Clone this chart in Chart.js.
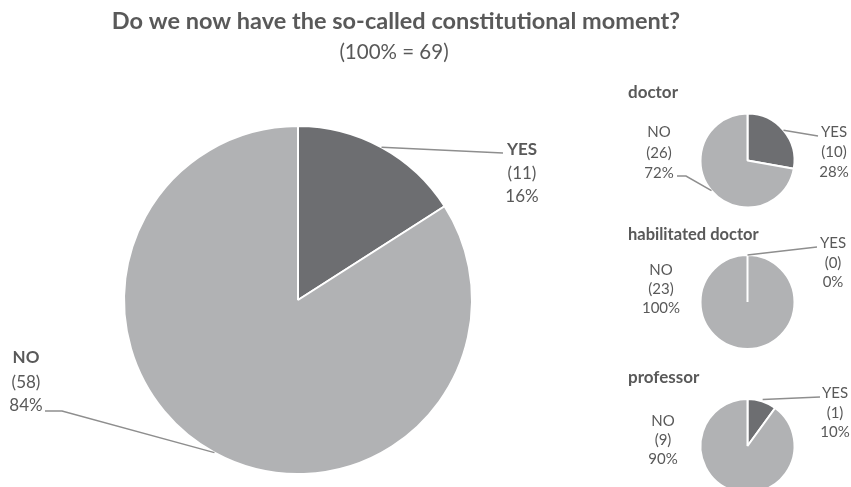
<!DOCTYPE html>
<html>
<head>
<meta charset="utf-8">
<script src="https://cdn.jsdelivr.net/npm/chart.js@4.4.0/dist/chart.umd.min.js"></script>
<style>
  html, body { margin: 0; padding: 0; background: #fff; }
  #wrap { position: relative; width: 851px; height: 487px; overflow: hidden; }
  #wrap canvas { position: absolute; left: 0; top: 0; }
</style>
</head>
<body>
<div id="wrap">
  <canvas id="overall" width="851" height="520"></canvas>
  <canvas id="doctor" width="851" height="520"></canvas>
  <canvas id="habilitated" width="851" height="520"></canvas>
  <canvas id="professor" width="851" height="520"></canvas>
</div>
<script>
// survey answers
const answers = ['YES', 'NO'];
const overallCounts = [11, 58];
const groupNames = ['doctor', 'habilitated doctor', 'professor'];
const doctorCounts = [10, 26];
const habilitatedCounts = [0, 23];
const professorCounts = [1, 9];

const W = 851, H = 520;
const sliceColors = ['#6d6e71', '#b1b2b4'];
const textColor = '#595959';
const lineColor = '#8e8e8e';
const FONT = 'Lato, "Open Sans", sans-serif';

// place a pie of radius r centred on (cx, cy) inside a full-size canvas
function padFor(cx, cy, r, bw) {
    const R = r + bw / 2;
    return { left: cx - R, top: cy - R, right: W - cx - R, bottom: H - cy - R };
}

// headings, slice labels and leader lines
const pieLabels = {
    id: 'pieLabels',
    afterDraw(chart, args, opts) {
        const ctx = chart.ctx;
        const meta = chart.getDatasetMeta(0);
        const data = chart.data.datasets[0].data;
        const total = data.reduce((a, b) => a + b, 0);
        ctx.save();
        ctx.fillStyle = textColor;
        ctx.textBaseline = 'middle';

        (opts.headings || []).forEach(h => {
            ctx.font = (h.bold ? 'bold ' : '') + h.size + 'px ' + FONT;
            ctx.textAlign = h.align || 'left';
            ctx.fillText(h.text, h.x, h.y);
        });

        opts.labels.forEach((lab, i) => {
            const arc = meta.data[i].getProps(['x', 'y', 'startAngle', 'endAngle', 'outerRadius'], true);
            if (lab.leader) {
                const mid = (arc.startAngle + arc.endAngle) / 2;
                const r = arc.outerRadius + (opts.leaderOut || 0);
                ctx.beginPath();
                ctx.moveTo(arc.x + Math.cos(mid) * r, arc.y + Math.sin(mid) * r);
                lab.leader.forEach(p => ctx.lineTo(p[0], p[1]));
                ctx.strokeStyle = lineColor;
                ctx.lineWidth = 1.5;
                ctx.stroke();
            }
            const pct = Math.round(data[i] / total * 100) + '%';
            const lines = [chart.data.labels[i], '(' + data[i] + ')', pct];
            ctx.textAlign = 'center';
            lines.forEach((t, k) => {
                ctx.font = (k === 0 && opts.boldName ? 'bold ' : '') + opts.size + 'px ' + FONT;
                ctx.fillText(t, lab.cx, lab.y[k]);
            });
        });
        ctx.restore();
    }
};

function makePie(id, counts, pie, labelOpts) {
    return new Chart(document.getElementById(id), {
        type: 'pie',
        data: {
            labels: answers,
            datasets: [{
                data: counts,
                backgroundColor: sliceColors,
                borderColor: '#ffffff',
                borderWidth: 2
            }]
        },
        options: {
            responsive: false,
            animation: false,
            events: [],
            layout: { padding: padFor(pie.cx, pie.cy, pie.r, 2) },
            plugins: {
                legend: { display: false },
                tooltip: { enabled: false },
                pieLabels: labelOpts
            }
        },
        plugins: [pieLabels]
    });
}

makePie('overall', overallCounts, { cx: 298, cy: 300, r: 174 }, {
    size: 17,
    boldName: true,
    headings: [
        { text: 'Do we now have the so-called constitutional moment?', x: 396, y: 21, size: 23.5, bold: true, align: 'center' },
        { text: '(100% = 69)', x: 394, y: 52, size: 20.5, align: 'center' }
    ],
    labels: [
        { cx: 522, y: [150, 174, 197], leader: [[503, 153]] },
        { cx: 26, y: [358, 383, 406], leader: [[62, 411], [45, 411]] }
    ]
});

makePie('doctor', doctorCounts, { cx: 747.5, cy: 160.5, r: 47 }, {
    size: 15,
    headings: [{ text: groupNames[0], x: 628, y: 93, size: 17, bold: true }],
    labels: [
        { cx: 834, y: [132, 152, 172], leader: [[818, 136]] },
        { cx: 659, y: [132, 153, 173], leader: [[686, 176], [677, 176]] }
    ]
});

makePie('habilitated', habilitatedCounts, { cx: 747.5, cy: 302, r: 47 }, {
    size: 15,
    headings: [{ text: groupNames[1], x: 628, y: 235, size: 16.5, bold: true }],
    labels: [
        { cx: 833, y: [243, 263, 282], leader: [[817, 247]] },
        { cx: 661, y: [270, 289, 308] }
    ]
});

makePie('professor', professorCounts, { cx: 747.5, cy: 446, r: 47 }, {
    size: 15,
    leaderOut: 2,
    headings: [{ text: groupNames[2], x: 628, y: 378, size: 17, bold: true }],
    labels: [
        { cx: 835, y: [393, 413, 432], leader: [[820, 397]] },
        { cx: 663, y: [421, 440, 459] }
    ]
});
</script>
</body>
</html>
